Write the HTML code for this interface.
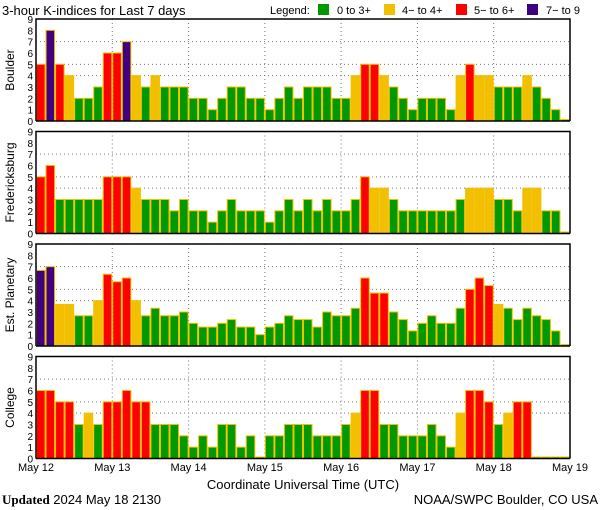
<!DOCTYPE html>
<html><head><meta charset="utf-8"><style>
body{margin:0;background:#fff;}
svg{display:block;font-family:"Liberation Sans",sans-serif;}
</style></head><body>
<svg id="chart" width="600" height="510" viewBox="0 0 600 510">
<text x="2" y="15" font-size="13">3-hour K-indices for Last 7 days</text>
<g font-size="11">
<text x="270" y="14">Legend:</text>
<rect x="318" y="4" width="11" height="11" fill="#009900"/>
<text x="337" y="14">0 to 3+</text>
<rect x="384" y="4" width="11" height="11" fill="#f2c000"/>
<text x="402" y="14">4− to 4+</text>
<rect x="456" y="4" width="11" height="11" fill="#ff0000"/>
<text x="474" y="14">5− to 6+</text>
<rect x="527" y="4" width="11" height="11" fill="#400080"/>
<text x="546" y="14">7− to 9</text>
</g>
<g id="panels"></g>
<g id="xlabels" font-size="11"></g>
<text x="303" y="489" font-size="13" text-anchor="middle">Coordinate Universal Time (UTC)</text>
<text x="2" y="504" font-size="13"><tspan font-weight="bold" font-family="Liberation Serif,serif">Updated</tspan> 2024 May 18 2130</text>
<text x="598" y="504" font-size="13" text-anchor="end">NOAA/SWPC Boulder, CO USA</text>
</svg>
<script>
const stations = ["Boulder","Fredericksburg","Est. Planetary","College"];
const dayLabels = ["May 12","May 13","May 14","May 15","May 16","May 17","May 18","May 19"];
const yTicks = [0,1,2,3,4,5,6,7,8,9];
const boulder = [5,8,5,4,2,2,3,6,6,7,4,3,4,3,3,3,2,2,1,2,3,3,2,2,1,2,3,2,3,3,3,2,2,4,5,5,4,3,2,1,2,2,2,1,4,5,4,4,3,3,3,4,3,2,1,0];
const fredericksburg = [5,6,3,3,3,3,3,5,5,5,4,3,3,3,2,3,2,2,1,2,3,2,2,2,1,2,3,2,3,2,3,2,2,3,5,4,4,3,2,2,2,2,2,2,3,4,4,4,3,3,2,4,4,2,2,0];
const planetary = [6.67,7,3.67,3.67,2.67,2.67,4,6.33,5.67,6,4,2.67,3.33,2.67,2.67,3,2,1.67,1.67,2,2.33,1.67,1.67,1,1.67,2,2.67,2.33,2.33,1.67,3,2.67,2.67,3.33,6,4.67,4.67,3,2.33,1.33,2,2.67,2,2,3.33,5,6,5.33,3.67,3.33,2.33,3.33,2.67,2.33,1.33,0];
const college = [6,6,5,5,3,4,3,5,5,6,5,5,3,3,3,2,1,2,1,3,3,1,2,0,2,2,3,3,3,2,2,2,3,4,6,6,3,3,2,2,2,3,2,1,4,6,6,5,3,4,5,5,0,0,0,0];
const series = [boulder,fredericksburg,planetary,college];

const NS="http://www.w3.org/2000/svg";
const X0=36, X1=570, NB=56, PH=102;
const panelTops=[19,131.5,244,356.5];
function xScale(i){return X0+(X1-X0)*i/NB;}
function yScale(v,top){return top+PH-(v/9)*PH;}
function colorFor(v){const k=Math.round(v);return k<4?"#009900":k<5?"#f2c000":k<7?"#ff0000":"#400080";}
function mk(tag,attrs,parent){const e=document.createElementNS(NS,tag);for(const k in attrs)e.setAttribute(k,attrs[k]);parent.appendChild(e);return e;}
const panels=document.getElementById("panels");
series.forEach((vals,p)=>{
  const top=panelTops[p];
  const g=mk("g",{},panels);
  
  
  // grid lines
  [4,5,7].forEach(v=>{
    const l=mk("line",{x1:X0,x2:X1,y1:yScale(v,top),y2:yScale(v,top),stroke:"#777","stroke-dasharray":"1 3"},g);
    
    
  });
  for(let d=1;d<7;d++){
    const x=xScale(d*8);
    const l=mk("line",{x1:x,x2:x,y1:top,y2:top+PH,stroke:"#777","stroke-dasharray":"1 3"},g);
    
    
  }
  vals.forEach((v,i)=>{
    const x=xScale(i), w=xScale(i+1)-x;
    let y=yScale(v,top); let h=top+PH-y; if(h<1.5){h=1.5;y=top+PH-1.5;}
    const r=mk("rect",{x:x+0.5,y:y,width:w-1,height:h,fill:colorFor(v),stroke:"#f2c000","stroke-width":1},g);
    
    
  });
  // frame
  const f=mk("path",{d:`M${X0},${top+PH} V${top} H${X1} V${top+PH}`,fill:"none",stroke:"#000","stroke-width":1.5},g);
  
  
  const b=mk("line",{x1:X0,x2:X1,y1:top+PH,y2:top+PH,stroke:"#000","stroke-width":1.5},g);
  
  
  yTicks.forEach(t=>{
    const tx=mk("text",{x:33,y:yScale(t,top)+4,"font-size":10,"text-anchor":"end"},g);
    tx.textContent=t;
    
    
  });
  const cy=top+PH/2;
  const lab=mk("text",{x:14,y:cy,"font-size":12,"text-anchor":"middle",transform:`rotate(-90 14 ${cy})`},g);
  lab.textContent=stations[p];
  
  
});
const xl=document.getElementById("xlabels");
dayLabels.forEach((d,i)=>{
  const t=mk("text",{x:xScale(i*8),y:471,"text-anchor":"middle"},xl);
  t.textContent=d;
  
  
});
</script>
</body></html>
